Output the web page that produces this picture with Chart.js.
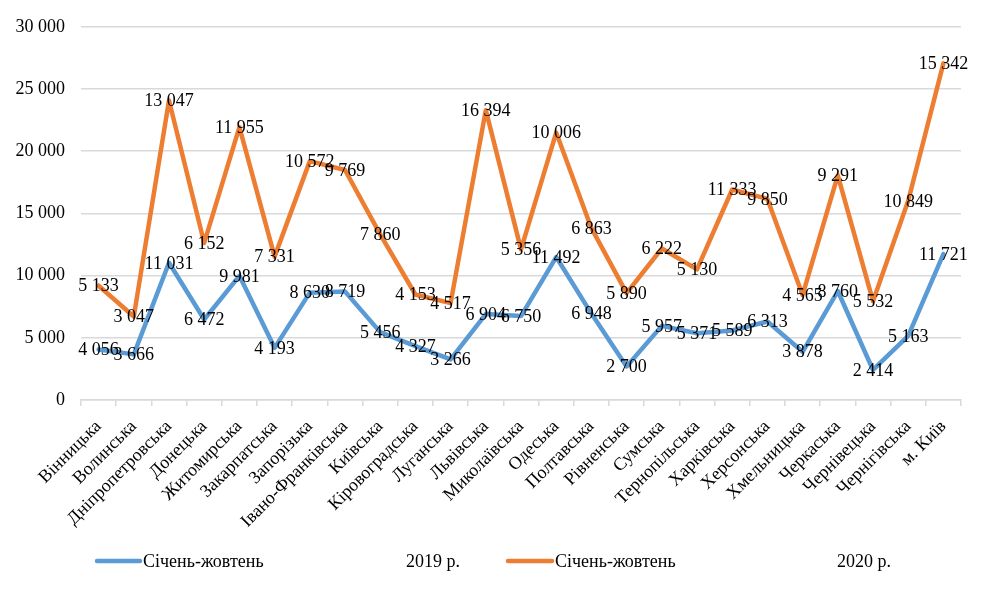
<!DOCTYPE html>
<html>
<head>
<meta charset="utf-8">
<script src="https://cdn.jsdelivr.net/npm/chart.js@4/dist/chart.umd.min.js"></script>
<style>
  html, body { margin: 0; padding: 0; background: #fff; }
  #wrap { width: 984px; height: 591px; position: relative; }
</style>
</head>
<body>
<div id="wrap"><canvas id="c" width="984" height="591"></canvas></div>
<script>
const categories = ['Вінницька','Волинська','Дніпропетровська','Донецька','Житомирська','Закарпатська','Запорізька','Івано-Франківська','Київська','Кіровоградська','Луганська','Львівська','Миколаївська','Одеська','Полтавська','Рівненська','Сумська','Тернопільська','Харківська','Херсонська','Хмельницька','Черкаська','Чернівецька','Чернігівська','м. Київ'];
const values2019 = [4056,3666,11031,6472,9981,4193,8630,8719,5456,4327,3266,6904,6750,11492,6948,2700,5957,5371,5589,6313,3878,8760,2414,5163,11721];
const values2020 = [5133,3047,13047,6152,11955,7331,10572,9769,7860,4153,4517,16394,5356,10006,6863,5890,6222,5130,11333,9850,4565,9291,5532,10849,15342];
const seriesNames = ['Січень-жовтень', 'Січень-жовтень'];
const seriesPeriods = ['2019 р.', '2020 р.'];
const yTickMax = 30000;
const yTickStep = 5000;

const FONT = '"Liberation Serif", "Times New Roman", serif';
const BLUE = '#5B9BD5';
const ORANGE = '#ED7D31';
const GRID = '#D9D9D9';

function fmt(v) {
  return String(Math.round(v)).replace(/\B(?=(\d{3})+(?!\d))/g, ' ');
}

const labelPlugin = {
  id: 'valueLabels',
  afterDatasetsDraw(chart) {
    const ctx = chart.ctx;
    ctx.save();
    ctx.font = '18px ' + FONT;
    ctx.fillStyle = '#000';
    ctx.textAlign = 'center';
    ctx.textBaseline = 'middle';
    chart.data.datasets.forEach((ds, di) => {
      const meta = chart.getDatasetMeta(di);
      meta.data.forEach((el, i) => {
        ctx.fillText(fmt(ds.data[i]), el.x, el.y + 1);
      });
    });
    ctx.restore();
  }
};

const legendPlugin = {
  id: 'customLegend',
  afterDraw(chart) {
    const ctx = chart.ctx;
    const items = [
      { color: BLUE, x0: 97, x1: 140, tx: 143, px: 406 },
      { color: ORANGE, x0: 508, x1: 552, tx: 555, px: 837 }
    ];
    const y = 561;
    ctx.save();
    ctx.font = '18px ' + FONT;
    ctx.fillStyle = '#000';
    ctx.textAlign = 'left';
    ctx.textBaseline = 'middle';
    items.forEach((it, i) => {
      ctx.strokeStyle = it.color;
      ctx.lineWidth = 4.5;
      ctx.lineCap = 'round';
      ctx.beginPath();
      ctx.moveTo(it.x0, y);
      ctx.lineTo(it.x1, y);
      ctx.stroke();
      ctx.fillText(seriesNames[i], it.tx, y + 1);
      ctx.fillText(seriesPeriods[i], it.px, y + 1);
    });
    ctx.restore();
  }
};

new Chart(document.getElementById('c'), {
  type: 'line',
  data: {
    labels: categories,
    datasets: [
      {
        label: seriesNames[0] + ' ' + seriesPeriods[0],
        data: values2019,
        borderColor: BLUE,
        backgroundColor: BLUE,
        borderWidth: 4.5,
        pointRadius: 0,
        fill: false,
        tension: 0,
        borderJoinStyle: 'round',
        borderCapStyle: 'round'
      },
      {
        label: seriesNames[1] + ' ' + seriesPeriods[1],
        data: values2020,
        borderColor: ORANGE,
        backgroundColor: ORANGE,
        borderWidth: 4.5,
        pointRadius: 0,
        fill: false,
        tension: 0,
        borderJoinStyle: 'round',
        borderCapStyle: 'round'
      }
    ]
  },
  options: {
    responsive: false,
    animation: false,
    devicePixelRatio: 1,
    layout: { padding: { top: 23, right: 23, left: 0, bottom: 0 } },
    plugins: {
      legend: { display: false },
      tooltip: { enabled: false }
    },
    scales: {
      x: {
        type: 'category',
        offset: true,
        grid: {
          offset: true,
          drawOnChartArea: false,
          drawTicks: true,
          tickLength: 6,
          color: GRID,
          lineWidth: 1.5
        },
        border: { display: true, color: GRID, width: 1.5 },
        ticks: {
          autoSkip: false,
          maxRotation: 45,
          minRotation: 45,
          padding: 10,
          color: '#000',
          font: { family: FONT, size: 18 }
        },
        afterFit(scale) { scale.height = 191; }
      },
      y: {
        stacked: true,
        min: 0,
        max: yTickMax,
        grid: {
          color: GRID,
          lineWidth: 1.5,
          drawTicks: false
        },
        border: { display: false },
        ticks: {
          stepSize: yTickStep,
          padding: 16,
          color: '#000',
          font: { family: FONT, size: 18 },
          callback: (v) => fmt(v)
        },
        afterFit(scale) { scale.width = 81; }
      }
    }
  },
  plugins: [labelPlugin, legendPlugin]
});
</script>
</body>
</html>
